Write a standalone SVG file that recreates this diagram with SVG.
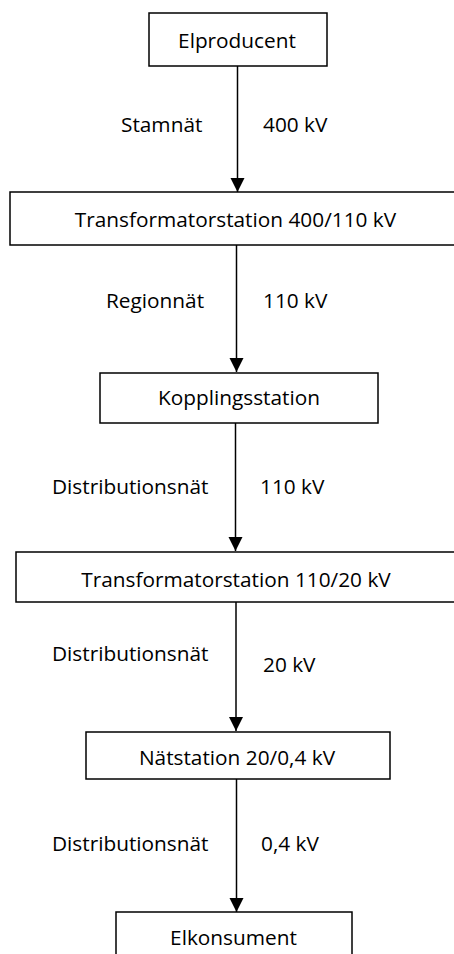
<svg xmlns="http://www.w3.org/2000/svg" width="454" height="954" viewBox="0 0 454 954">
<style>
rect.box{fill:#fff;stroke:#000;stroke-width:1.5}
text{font-family:"Open Sans","Noto Sans","Liberation Sans",sans-serif;font-size:20.8px;fill:#000}
.c{text-anchor:middle}
line.conn{stroke:#000;stroke-width:1.5}
</style>
<defs>
<marker id="ah" markerUnits="userSpaceOnUse" markerWidth="14" markerHeight="16" refX="14" refY="7" orient="auto" viewBox="0 0 14 14">
<path d="M0,0 L14,7 L0,14 Z" fill="#000"/>
</marker>
</defs>
<rect width="454" height="954" fill="#fff"/>
<g id="connectors">
<line class="conn" x1="237.5" y1="66" x2="237.5" y2="192" marker-end="url(#ah)"/>
<line class="conn" x1="236.5" y1="245" x2="236.5" y2="372" marker-end="url(#ah)"/>
<line class="conn" x1="235.5" y1="423" x2="235.5" y2="551" marker-end="url(#ah)"/>
<line class="conn" x1="236" y1="602" x2="236" y2="731" marker-end="url(#ah)"/>
<line class="conn" x1="236.5" y1="779" x2="236.5" y2="912" marker-end="url(#ah)"/>
<text x="121" y="132">Stamnät</text>
<text x="263" y="132">400 kV</text>
<text x="106" y="308">Regionnät</text>
<text x="263" y="308">110 kV</text>
<text x="52" y="494">Distributionsnät</text>
<text x="260" y="494">110 kV</text>
<text x="52" y="661">Distributionsnät</text>
<text x="263" y="672">20 kV</text>
<text x="52" y="851">Distributionsnät</text>
<text x="261" y="851">0,4 kV</text>
</g>
<g id="elproducent">
<rect class="box" x="149" y="13" width="178" height="53"/>
<text class="c" x="237" y="48">Elproducent</text>
</g>
<g id="transformator400">
<rect class="box" x="10" y="192" width="460" height="53"/>
<text class="c" x="235.5" y="227">Transformatorstation 400/110 kV</text>
</g>
<g id="kopplingsstation">
<rect class="box" x="100" y="373" width="278" height="50"/>
<text class="c" x="239" y="405">Kopplingsstation</text>
</g>
<g id="transformator110">
<rect class="box" x="16" y="552" width="460" height="50"/>
<text class="c" x="236" y="587">Transformatorstation 110/20 kV</text>
</g>
<g id="natstation">
<rect class="box" x="86" y="732" width="304" height="47"/>
<text class="c" x="237" y="765">Nätstation 20/0,4 kV</text>
</g>
<g id="elkonsument">
<rect class="box" x="116" y="912" width="236" height="60"/>
<text class="c" x="233.5" y="945">Elkonsument</text>
</g>
</svg>
